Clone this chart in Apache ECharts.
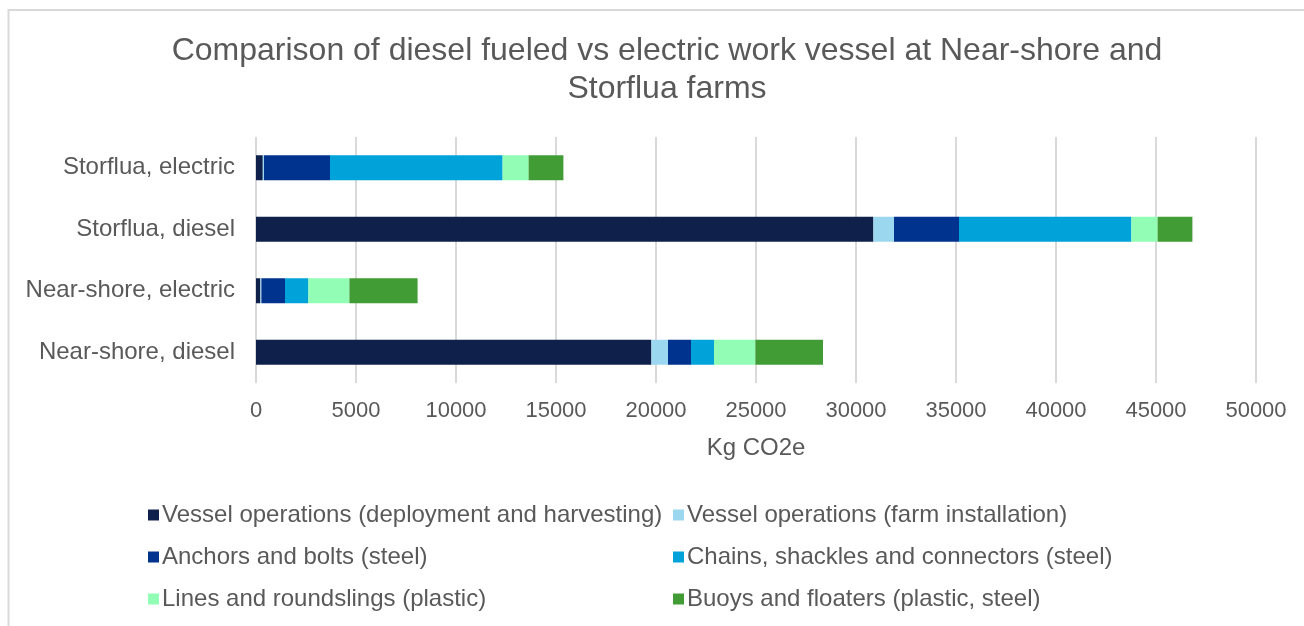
<!DOCTYPE html>
<html>
<head>
<meta charset="utf-8">
<title>Diesel vs electric work vessel</title>
<script src="https://cdn.jsdelivr.net/npm/echarts@6/dist/echarts.min.js"></script>
<style>
  html, body { margin: 0; padding: 0; background: #fff; }
  #chart { width: 1304px; height: 626px; }
</style>
</head>
<body>
<div id="chart"></div>
<script>
// Farm / vessel scenarios, bottom to top on the category axis
const categories = ['Near-shore, diesel', 'Near-shore, electric', 'Storflua, diesel', 'Storflua, electric'];

// Emission contributions in kg CO2e, one value per scenario
const vesselDeployHarvest = [19770, 220, 30870, 340];
const vesselFarmInstall   = [830, 50, 1030, 60];
const anchorsBolts        = [1150, 1180, 3250, 3300];
const chainsShackles      = [1150, 1170, 8620, 8630];
const linesRoundslings    = [2070, 2050, 1310, 1300];
const buoysFloaters       = [3380, 3410, 1740, 1740];

const seriesNames = [
  'Vessel operations (deployment and harvesting)',
  'Vessel operations (farm installation)',
  'Anchors and bolts (steel)',
  'Chains, shackles and connectors (steel)',
  'Lines and roundslings (plastic)',
  'Buoys and floaters (plastic, steel)'
];
const seriesValues = [vesselDeployHarvest, vesselFarmInstall, anchorsBolts, chainsShackles, linesRoundslings, buoysFloaters];
const seriesColors = ['#0F204B', '#9BD7EF', '#00338D', '#00A2DA', '#92FDB4', '#419C36'];

const xTicks = { min: 0, max: 50000, interval: 5000 };

const FONT = '"Liberation Sans", Arial, sans-serif';
const GREY = '#595959';

const chart = echarts.init(document.getElementById('chart'), null, { renderer: 'canvas' });

const legendCommon = {
  orient: 'vertical',
  top: 498,
  itemWidth: 11,
  itemHeight: 11,
  itemGap: 18,
  icon: 'rect',
  selectedMode: false,
  textStyle: { fontFamily: FONT, fontSize: 24, color: GREY, lineHeight: 24, padding: [0, 0, 0, -2] }
};

chart.setOption({
  animation: false,
  backgroundColor: '#ffffff',
  textStyle: { fontFamily: FONT },
  graphic: [{
    type: 'rect',
    shape: { x: 8.5, y: 10, width: 1400, height: 700 },
    style: { fill: 'none', stroke: '#D9D9D9', lineWidth: 2 },
    silent: true
  }],
  title: {
    text: 'Comparison of diesel fueled vs electric work vessel at Near-shore and\nStorflua farms',
    left: 662,
    textAlign: 'center',
    top: 27,
    textStyle: { fontFamily: FONT, fontSize: 32, fontWeight: 'normal', color: GREY, lineHeight: 38 }
  },
  legend: [
    Object.assign({}, legendCommon, { left: 143, data: [seriesNames[0], seriesNames[2], seriesNames[4]] }),
    Object.assign({}, legendCommon, { left: 668, data: [seriesNames[1], seriesNames[3], seriesNames[5]] })
  ],
  grid: { left: 256, right: 48, top: 137, bottom: 243, containLabel: false },
  xAxis: {
    type: 'value',
    min: xTicks.min,
    max: xTicks.max,
    interval: xTicks.interval,
    name: 'Kg CO2e',
    nameLocation: 'middle',
    nameGap: 53,
    nameTextStyle: { fontFamily: FONT, fontSize: 24, color: GREY },
    axisLine: { show: false },
    axisTick: { show: false },
    axisLabel: { fontFamily: FONT, fontSize: 22, color: GREY, margin: 17, formatter: v => String(v) },
    splitLine: { show: true, lineStyle: { color: '#D9D9D9', width: 2 } }
  },
  yAxis: {
    type: 'category',
    data: categories,
    axisLine: { show: false },
    axisTick: { show: false },
    axisLabel: { fontFamily: FONT, fontSize: 24, color: GREY, margin: 21 },
    splitLine: { show: false }
  },
  series: seriesNames.map((name, i) => ({
    name: name,
    type: 'bar',
    stack: 'total',
    barWidth: 25,
    data: seriesValues[i],
    itemStyle: { color: seriesColors[i] },
    emphasis: { disabled: true }
  }))
});
</script>
</body>
</html>
